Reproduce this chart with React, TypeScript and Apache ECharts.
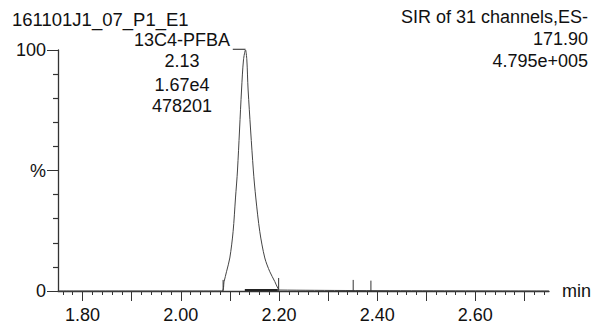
import React, { useEffect, useRef } from "react";
import * as echarts from "echarts";

// Chromatogram trace (retention time in min, intensity in %)
const peakTime = [1.75, 2.0836, 2.0883, 2.0932, 2.0999, 2.1066, 2.1115, 2.1156, 2.1238, 2.1278, 2.1319, 2.1346, 2.1372, 2.1478, 2.1529, 2.161, 2.1712, 2.1814, 2.1916, 2.1977, 2.2018, 2.75];
const peakIntensity = [0, 0, 3.9, 8.0, 13.7, 24.6, 38.6, 50.2, 83.4, 95.9, 100, 95.9, 83.4, 50.2, 38.6, 24.6, 13.7, 8.0, 3.9, 1.2, 0.4, 0];

// Integration / event markers
const markerTimes = [2.0863, 2.1994, 2.3512, 2.3873];
const markerHeights = [4.6, 5.4, 4.6, 4.3];

// Integration baseline segment
const baselineTimes = [2.1305, 2.1977];
const baselineLevel = [0.4, 0.4];

// Label leader line (peak label to apex)
const leaderTimes = [2.106, 2.132];
const leaderLevel = [100.3, 100.3];

// Axis ticks
const xMajorTicks = [1.8, 1.9, 2.0, 2.1, 2.2, 2.3, 2.4, 2.5, 2.6, 2.7];
const xLabels = [1.8, 2.0, 2.2, 2.4, 2.6];
const xMinorTicks: number[] = [];
for (let i = 88; i <= 137; i++) xMinorTicks.push(+(i * 0.02).toFixed(2));
const yMajorTicks = [0, 50, 100];
const yMinorTicks = [10, 20, 30, 40, 60, 70, 80, 90];

// Texts
const topLeftTitle = "161101J1_07_P1_E1";
const peakLabel = ["13C4-PFBA", "2.13", "1.67e4", "478201"];
const topRight = ["SIR of 31 channels,ES-", "171.90", "4.795e+005"];

const FONT = "'Liberation Sans', Arial, sans-serif";
const INK = "#111";
const AXIS = "#333";

export default function App() {
  const ref = useRef<HTMLDivElement>(null);
  useEffect(() => {
    if (!ref.current) return;
    const chart = echarts.init(ref.current, undefined, { renderer: "svg" });
    const baseX = { type: "value", min: 1.75, max: 2.75, gridIndex: 0, splitLine: { show: false } };
    const baseY = { type: "value", min: 0, max: 100, gridIndex: 0, splitLine: { show: false } };
    const markerSeries = markerTimes.map((t, i) => ({
      type: "line",
      data: [[t, 0], [t, markerHeights[i]]],
      symbol: "none",
      lineStyle: { color: AXIS, width: 1 },
      silent: true,
    }));
    chart.setOption({
      animation: false,
      backgroundColor: "#fff",
      textStyle: { fontFamily: FONT },
      grid: { left: 58, right: 48, top: 50, bottom: 34, containLabel: false, outerBoundsMode: "none" },
      xAxis: [
        {
          ...baseX,
          name: "min",
          nameLocation: "end",
          nameGap: 13,
          nameTextStyle: { fontSize: 18, color: INK, fontFamily: FONT, padding: [3, 0, 0, 0] },
          axisLine: { show: true, lineStyle: { color: AXIS, width: 1.3 } },
          axisTick: { show: true, customValues: xMajorTicks, length: 10, lineStyle: { color: AXIS, width: 1 } },
          axisLabel: {
            show: true,
            customValues: xLabels,
            formatter: (v: number) => v.toFixed(2),
            fontSize: 18,
            color: INK,
            margin: 15,
            fontFamily: FONT,
          },
        },
        {
          ...baseX,
          position: "bottom",
          axisLine: { show: false },
          axisTick: { show: true, customValues: xMinorTicks, length: 4, lineStyle: { color: AXIS, width: 1 } },
          axisLabel: { show: false },
        },
      ],
      yAxis: [
        {
          ...baseY,
          position: "left",
          axisLine: { show: true, lineStyle: { color: AXIS, width: 1.3 } },
          axisTick: { show: true, customValues: yMajorTicks, length: 11, lineStyle: { color: AXIS, width: 1 } },
          axisLabel: {
            show: true,
            customValues: yMajorTicks,
            formatter: (v: number) => (v === 50 ? "%" : String(v)),
            fontSize: 18,
            color: INK,
            margin: 12,
            fontFamily: FONT,
          },
        },
        {
          ...baseY,
          position: "left",
          axisLine: { show: false },
          axisTick: { show: true, customValues: yMinorTicks, length: 5, lineStyle: { color: AXIS, width: 1.2 } },
          axisLabel: { show: false },
        },
      ],
      series: [
        {
          type: "line",
          data: peakTime.map((t, i) => [t, peakIntensity[i]]),
          symbol: "none",
          smooth: 0.3,
          lineStyle: { color: "#444", width: 1 },
          silent: true,
          clip: false,
        },
        {
          type: "line",
          data: baselineTimes.map((t, i) => [t, baselineLevel[i]]),
          symbol: "none",
          lineStyle: { color: "#222", width: 2 },
          silent: true,
        },
        {
          type: "line",
          data: leaderTimes.map((t, i) => [t, leaderLevel[i]]),
          symbol: "none",
          lineStyle: { color: "#222", width: 1 },
          silent: true,
          clip: false,
        },
        ...markerSeries,
      ],
      graphic: [
        {
          type: "text",
          left: 12,
          top: 10,
          style: { text: topLeftTitle, fontSize: 18.5, fill: INK, fontFamily: FONT },
        },
        ...peakLabel.map((s, i) => ({
          type: "text",
          x: 182,
          y: [40, 61, 84.5, 105.5][i],
          style: { text: s, fontSize: 18, fill: INK, fontFamily: FONT, align: "center", verticalAlign: "middle" },
        })),
        ...topRight.map((s, i) => ({
          type: "text",
          x: 588,
          y: [16.5, 38.5, 61][i],
          style: { text: s, fontSize: 18, fill: INK, fontFamily: FONT, align: "right", verticalAlign: "middle" },
        })),
      ],
    });
    return () => chart.dispose();
  }, []);
  return <div ref={ref} style={{ position: "absolute", left: 0, top: 0, width: 597, height: 325 }} />;
}
